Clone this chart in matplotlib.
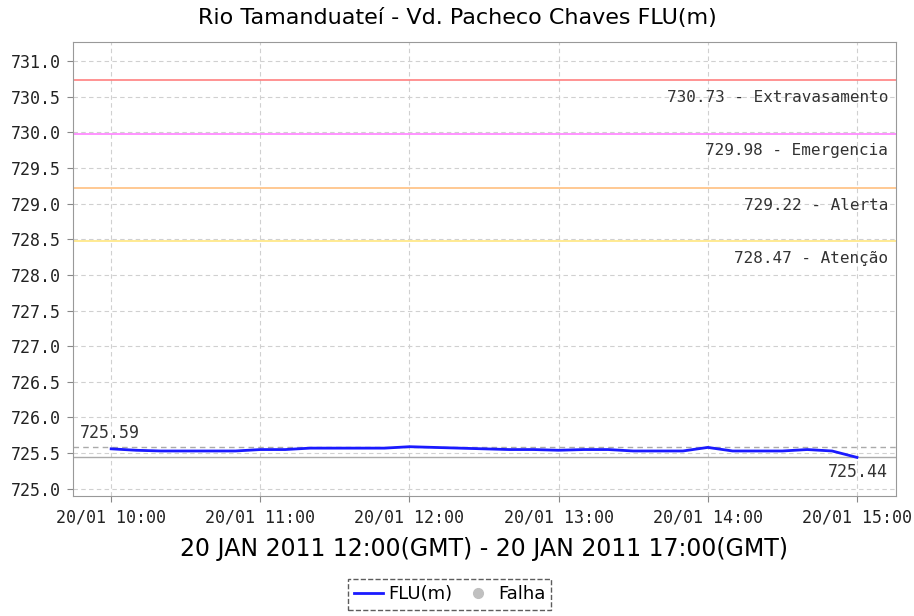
import matplotlib
matplotlib.use('Agg')
import matplotlib.pyplot as plt
from matplotlib.lines import Line2D

# minutos a partir de 20/01 10:00
minutos = [0, 10, 20, 30, 40, 50, 60, 70, 80, 90, 100, 110, 120, 130, 140, 150,
           160, 170, 180, 190, 200, 210, 220, 230, 240, 250, 260, 270, 280, 290, 300]
nivel = [725.56, 725.54, 725.53, 725.53, 725.53, 725.53, 725.55, 725.55, 725.57, 725.57,
         725.57, 725.57, 725.59, 725.58, 725.57, 725.56, 725.55, 725.55, 725.54, 725.55,
         725.55, 725.53, 725.53, 725.53, 725.58, 725.53, 725.53, 725.53, 725.55, 725.53,
         725.44]

cotas = [730.73, 729.98, 729.22, 728.47]
nomes_cotas = ['Extravasamento', 'Emergencia', 'Alerta', 'Atenção']
cores_cotas = ['#ff8080', '#ff80ff', '#ffc080', '#ffe680']

xticks_h = [0, 1, 2, 3, 4, 5]
xtick_labels = ['20/01 10:00', '20/01 11:00', '20/01 12:00', '20/01 13:00',
                '20/01 14:00', '20/01 15:00']
yticks = [725.0, 725.5, 726.0, 726.5, 727.0, 727.5, 728.0, 728.5, 729.0,
          729.5, 730.0, 730.5, 731.0]

horas = [m / 60 for m in minutos]
vmax = max(nivel)
vmin = min(nivel)
mono = 'DejaVu Sans Mono'

fig = plt.figure(figsize=(9.14, 6.16), dpi=100)
ax = fig.add_axes([0.080, 0.195, 0.900, 0.737])

ax.set_xlim(-0.255, 5.26)
ax.set_ylim(724.9, 731.27)

ax.grid(True, color='#d0d0d0', linestyle=(0, (4, 3)), linewidth=0.8)
ax.set_axisbelow(True)

# cotas de referencia
for c, n, cor in zip(cotas, nomes_cotas, cores_cotas):
    ax.axhline(c, color=cor, linewidth=1.2)
    ax.text(5.21, c - 0.24, f'{c:.2f} - {n}', ha='right', va='center',
            fontsize=11.5, family=mono, color='#333333')

# max / min
ax.axhline(vmax, color='#aaaaaa', linewidth=1.0, linestyle=(0, (4, 3)))
ax.axhline(vmin, color='#aaaaaa', linewidth=1.0)
ax.text(-0.21, vmax + 0.19, f'{vmax:.2f}', ha='left', va='center',
        fontsize=12, family=mono, color='#333333')
ax.text(5.21, vmin - 0.2, f'{vmin:.2f}', ha='right', va='center',
        fontsize=12, family=mono, color='#333333')

ax.plot(horas, nivel, color='#1a1aff', linewidth=2)

ax.set_xticks(xticks_h)
ax.set_xticklabels(xtick_labels, family=mono)
ax.set_yticks(yticks)
ax.set_yticklabels([f'{v:.1f}' for v in yticks], family=mono)
ax.tick_params(labelsize=12, colors='#888888', labelcolor='#222222', length=4, pad=5)
for s in ax.spines.values():
    s.set_color('#999999')

fig.text(0.5, 0.97, 'Rio Tamanduateí - Vd. Pacheco Chaves FLU(m)', fontsize=16,
         ha='center', va='center')
ax.set_xlabel('20 JAN 2011 12:00(GMT) - 20 JAN 2011 17:00(GMT)', fontsize=17,
              labelpad=8)

handles = [Line2D([], [], color='#1a1aff', linewidth=2),
           Line2D([], [], color='#c0c0c0', marker='o', linestyle='none', markersize=7)]
leg = fig.legend(handles, ['FLU(m)', 'Falha'], loc='center', bbox_to_anchor=(0.492, 0.035),
                 ncol=2, fontsize=13, frameon=True, fancybox=False, handlelength=1.6,
                 handletextpad=0.3, columnspacing=0.6, borderpad=0.35)
fr = leg.get_frame()
fr.set_edgecolor('#333333')
fr.set_linestyle('--')
fr.set_linewidth(1.0)

fig.savefig('out.png', dpi=100)
